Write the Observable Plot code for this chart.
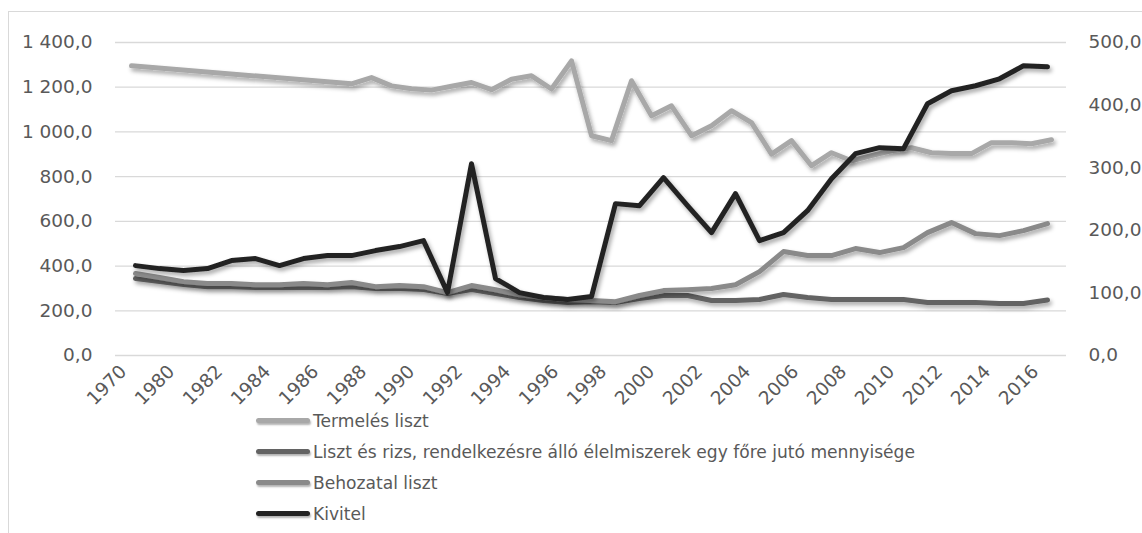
<!DOCTYPE html>
<html><head><meta charset="utf-8">
<script src="https://cdn.jsdelivr.net/npm/d3@7"></script>
<script src="https://cdn.jsdelivr.net/npm/@observablehq/plot@0.6"></script>
<style>
body{margin:0;background:#fff;font-family:"DejaVu Sans",sans-serif;}
#wrap{position:relative;width:1142px;height:533px;overflow:hidden;background:#fff;}
#frame{position:absolute;left:8px;top:11px;width:1300px;height:700px;border:1px solid #d9d9d9;box-sizing:border-box;}
.layer{position:absolute;left:0;top:0;}
#legend{position:absolute;left:256px;top:405px;font-size:17.1px;color:#595959;font-family:"DejaVu Sans",sans-serif;}
.item{height:31px;display:flex;align-items:center;white-space:nowrap;}
.sw{width:54px;height:5px;border-radius:3px;margin-right:3px;box-shadow:1px 2px 2px rgba(0,0,0,0.3);}
</style></head><body>
<div id="wrap"><div id="frame"></div><div id="back" class="layer"></div><div id="front" class="layer"></div><div id="legend"></div></div>
<script>
// Category axis of the three series plotted against the right axis (labelled axis)
const categories = ["1970","1975","1980","1981","1982","1983","1984","1985","1986","1987","1988","1989","1990","1991","1992","1993","1994","1995","1996","1997","1998","1999","2000","2001","2002","2003","2004","2005","2006","2007","2008","2009","2010","2011","2012","2013","2014","2015","2016"];
// Hidden annual category axis of the production series
const prodYears = ["1970","1971","1972","1973","1974","1975","1976","1977","1978","1979","1980","1981","1982","1983","1984","1985","1986","1987","1988","1989","1990","1991","1992","1993","1994","1995","1996","1997","1998","1999","2000","2001","2002","2003","2004","2005","2006","2007","2008","2009","2010","2011","2012","2013","2014","2015","2016"];

const seriesNames = ["Termelés liszt","Liszt és rizs, rendelkezésre álló élelmiszerek egy főre jutó mennyisége","Behozatal liszt","Kivitel"];
const seriesColors = ["#a8a8a8","#636363","#8a8a8a","#232323"];

// Left axis
const termeles = [1296,null,null,null,null,null,null,null,null,null,null,1215,1243,1206,1193,1187,1204,1221,1189,1236,1251,1192,1318,983,961,1229,1072,1117,983,1028,1095,1042,901,961,849,907,871,894,916,929,907,903,903,952,952,947,965];
// Right axis
const lisztRizs = [122.9,118,113.3,110,110,108.5,108.5,108.5,108.5,110,107,107,105.3,99,105.3,99,92.6,87.8,84.6,86,84.6,91,95.8,95.8,87.8,87.8,89.4,97.4,92.6,89.4,89.4,89.4,89.4,84.6,84.6,84.6,83,83,88.6];
const behozatal = [130.9,124.5,118,115,115,113,113,115,113,116.5,110,111.7,110,100.5,111.7,105,97,92.6,89.4,87.8,86,95.8,103.7,105,107,113,134,166,159.6,159.6,170.8,164.4,172.4,196.3,212.3,194.7,191.5,199.5,210.7];
const kivitel = [143.6,138.8,135.7,138.8,151.6,154.8,143.6,154.8,159.6,159.6,167.6,174,183.5,100.5,306.4,122.9,100.5,92.6,89.4,94.2,242.6,239.4,284,239.4,196.3,258.5,183.5,196.3,231.4,282.5,322.4,332,330.4,402.2,422.9,430.9,442,462.8,461.2];

const leftTicks = [0,200,400,600,800,1000,1200,1400];
const rightTicks = [0,100,200,300,400,500];
const xTicks = ["1970","1980","1982","1984","1986","1988","1990","1992","1994","1996","1998","2000","2002","2004","2006","2008","2010","2012","2014","2016"];

const huFormat = d3.formatLocale({decimal: ",", thousands: " ", grouping: [3], currency: ["", ""]}).format(",.1f");

const prodData = prodYears.map((year, i) => ({year, value: termeles[i]})).filter(d => d.value != null);
const mk = arr => categories.map((year, i) => ({year, value: arr[i]}));

const W = 1142, H = 533;
const M = {marginLeft: 115, marginRight: 76, marginTop: 42, marginBottom: 178};
const lineOpts = {strokeWidth: 5, strokeLinecap: "round", strokeLinejoin: "round"};
const txt = {fontFamily: "DejaVu Sans, sans-serif", fontSize: "18.5px", color: "#595959", background: "transparent", overflow: "visible"};

const back = Plot.plot({
  width: W, height: H, ...M,
  style: txt,
  x: {type: "point", domain: prodYears, padding: 0.5, axis: null},
  y: {domain: [0, 1400]},
  marks: [
    Plot.ruleY(leftTicks, {stroke: "#d9d9d9", strokeWidth: 1.3}),
    Plot.axisY(leftTicks, {anchor: "left", tickSize: 0, tickPadding: 23, tickFormat: huFormat, label: null, fill: "#595959"}),
    Plot.line(prodData, {x: "year", y: "value", stroke: seriesColors[0], ...lineOpts})
  ]
});

const front = Plot.plot({
  width: W, height: H, ...M,
  style: txt,
  x: {type: "point", domain: categories, padding: 0.5},
  y: {domain: [0, 500]},
  marks: [
    Plot.axisY(rightTicks, {anchor: "right", tickSize: 0, tickPadding: 22, tickFormat: huFormat, label: null, fill: "#595959", textAnchor: "start"}),
    Plot.axisX(xTicks, {tickSize: 0, tickPadding: 10, tickRotate: -45, label: null, fill: "#595959", textAnchor: "end", dx: -12, dy: 3}),
    Plot.line(mk(lisztRizs), {x: "year", y: "value", stroke: seriesColors[1], ...lineOpts}),
    Plot.line(mk(behozatal), {x: "year", y: "value", stroke: seriesColors[2], ...lineOpts}),
    Plot.line(mk(kivitel), {x: "year", y: "value", stroke: seriesColors[3], ...lineOpts})
  ]
});

function addShadow(svg, id) {
  const s = d3.select(svg);
  const f = s.insert("defs", ":first-child").append("filter")
    .attr("id", id).attr("filterUnits", "userSpaceOnUse")
    .attr("x", 0).attr("y", 0).attr("width", W).attr("height", H);
  f.append("feDropShadow").attr("dx", 2).attr("dy", 3).attr("stdDeviation", 2)
    .attr("flood-color", "#000").attr("flood-opacity", 0.35);
  s.selectAll('g[aria-label="line"]').attr("filter", `url(#${id})`);
}
addShadow(back, "shB");
addShadow(front, "shF");

document.getElementById("back").appendChild(back);
document.getElementById("front").appendChild(front);

const legend = d3.select("#legend");
seriesNames.forEach((name, i) => {
  const it = legend.append("div").attr("class", "item");
  it.append("div").attr("class", "sw").style("background", seriesColors[i]);
  it.append("span").text(name);
});
</script>
</body></html>
